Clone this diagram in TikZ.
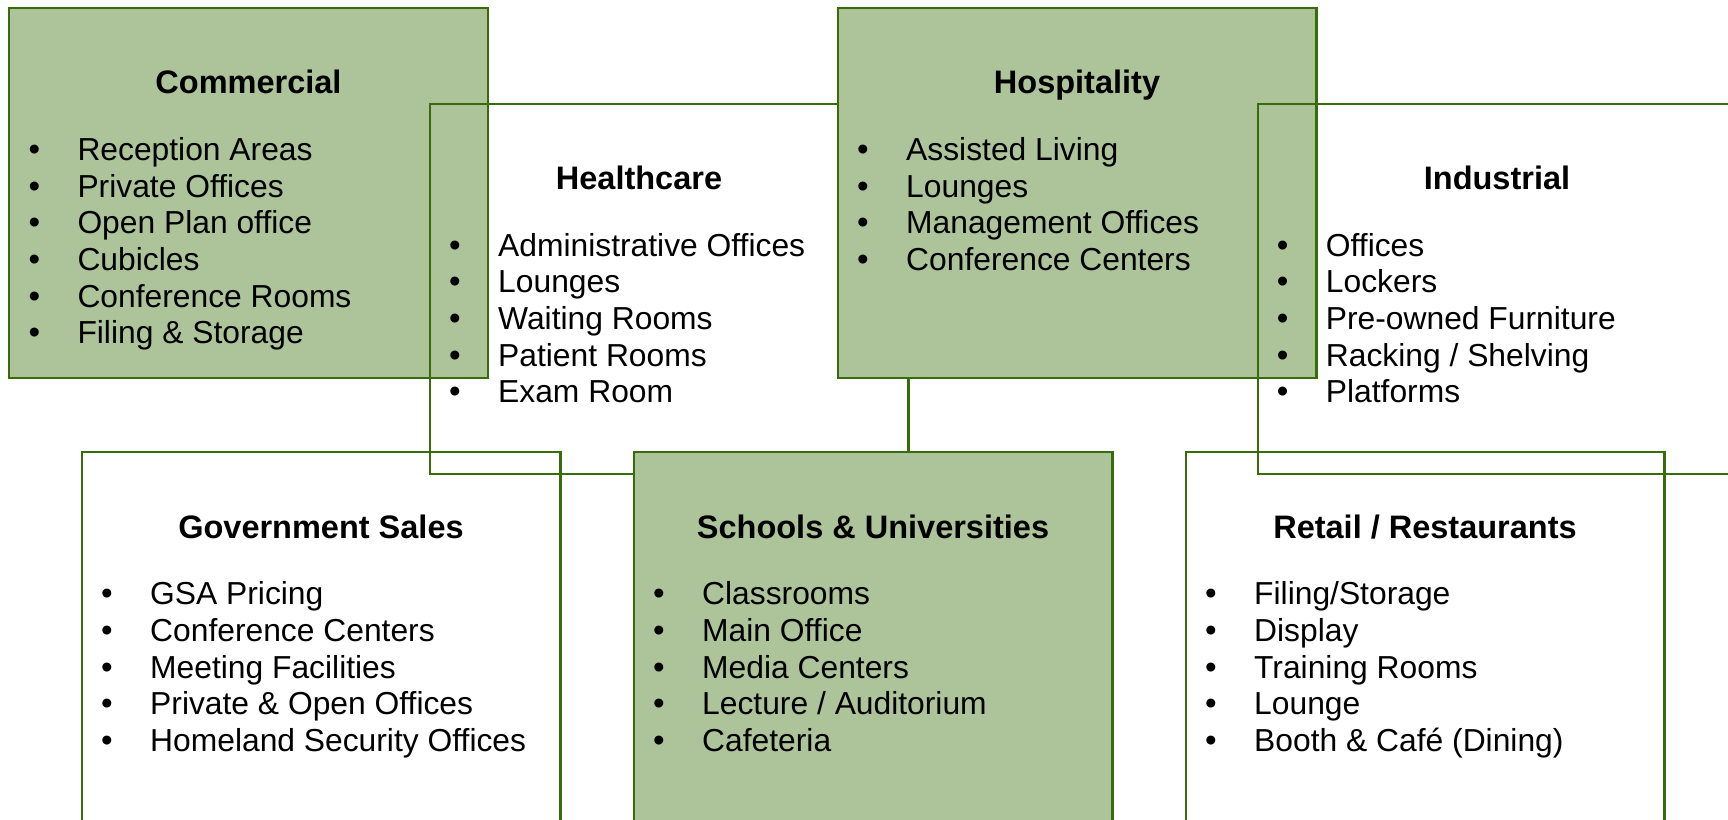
\documentclass[tikz,border=0pt]{standalone}
\usepackage{fontspec}
\setmainfont{Liberation Sans}
\definecolor{boxgreen}{RGB}{173,195,154}
\definecolor{edgegreen}{RGB}{56,108,8}
\tikzset{
  panel/.style={draw=edgegreen, line width=2.2pt, minimum width=478.4pt,
    minimum height=370pt, anchor=north west, inner sep=0pt, outer sep=0pt},
  gpanel/.style={panel, fill=boxgreen},
  ttl/.style={font=\fontsize{32.5}{36}\selectfont\bfseries, anchor=base, inner sep=0pt},
  itm/.style={font=\fontsize{31.8}{36}\selectfont, anchor=base west, inner sep=0pt},
  bul/.style={font=\fontsize{33}{36}\selectfont, anchor=base, inner sep=0pt},
}
\newcommand\panellist[4]{%
  \foreach \t [count=\i] in {#4} {
    \node[bul] (#1-b\i) at ({#2+25},{#3+36.7*(\i-1)}) {•};
    \node[itm] (#1-\i) at ({#2+68},{#3+36.7*(\i-1)}) {\t};
  }}
\begin{document}
\begin{tikzpicture}[x=1pt,y=-1pt]
\clip (0,0) rectangle (1728,819);
\fill[white] (0,0) rectangle (1728,819);
% boxes (drawing order gives the overlaps)
\node[gpanel] (com) at (9.3,7.7) {};
\node[panel]  (hea) at (430,103.7) {};
\node[gpanel] (hos) at (838,7.7) {};
\node[panel]  (ind) at (1257.7,103.7) {};
\node[panel]  (gov) at (82,452) {};
\node[gpanel] (sch) at (634,452) {};
\node[panel]  (ret) at (1186,452) {};
% titles
\node[ttl] (com-t) at (248.5,93.7) {Commercial};
\node[ttl] (hea-t) at (639,189.3) {Healthcare};
\node[ttl] (hos-t) at (1077,93.7) {Hospitality};
\node[ttl] (ind-t) at (1497,189.3) {Industrial};
\node[ttl] (gov-t) at (321,538) {Government Sales};
\node[ttl] (sch-t) at (873,538) {Schools \& Universities};
\node[ttl] (ret-t) at (1425,538) {Retail / Restaurants};
% lists
\panellist{com}{9.3}{160.4}{Reception Areas,Private Offices,Open Plan office,Cubicles,Conference Rooms,Filing \& Storage}
\panellist{hea}{430}{256}{Administrative Offices,Lounges,Waiting Rooms,Patient Rooms,Exam Room}
\panellist{hos}{838}{160.4}{Assisted Living,Lounges,Management Offices,Conference Centers}
\panellist{ind}{1257.7}{256}{Offices,Lockers,Pre-owned Furniture,Racking / Shelving,Platforms}
\panellist{gov}{82}{604.7}{GSA Pricing,Conference Centers,Meeting Facilities,Private \& Open Offices,Homeland Security Offices}
\panellist{sch}{634}{604.7}{Classrooms,Main Office,Media Centers,Lecture / Auditorium,Cafeteria}
\panellist{ret}{1186}{604.7}{Filing/Storage,Display,Training Rooms,Lounge,Booth \& Café (Dining)}
\end{tikzpicture}
\end{document}
